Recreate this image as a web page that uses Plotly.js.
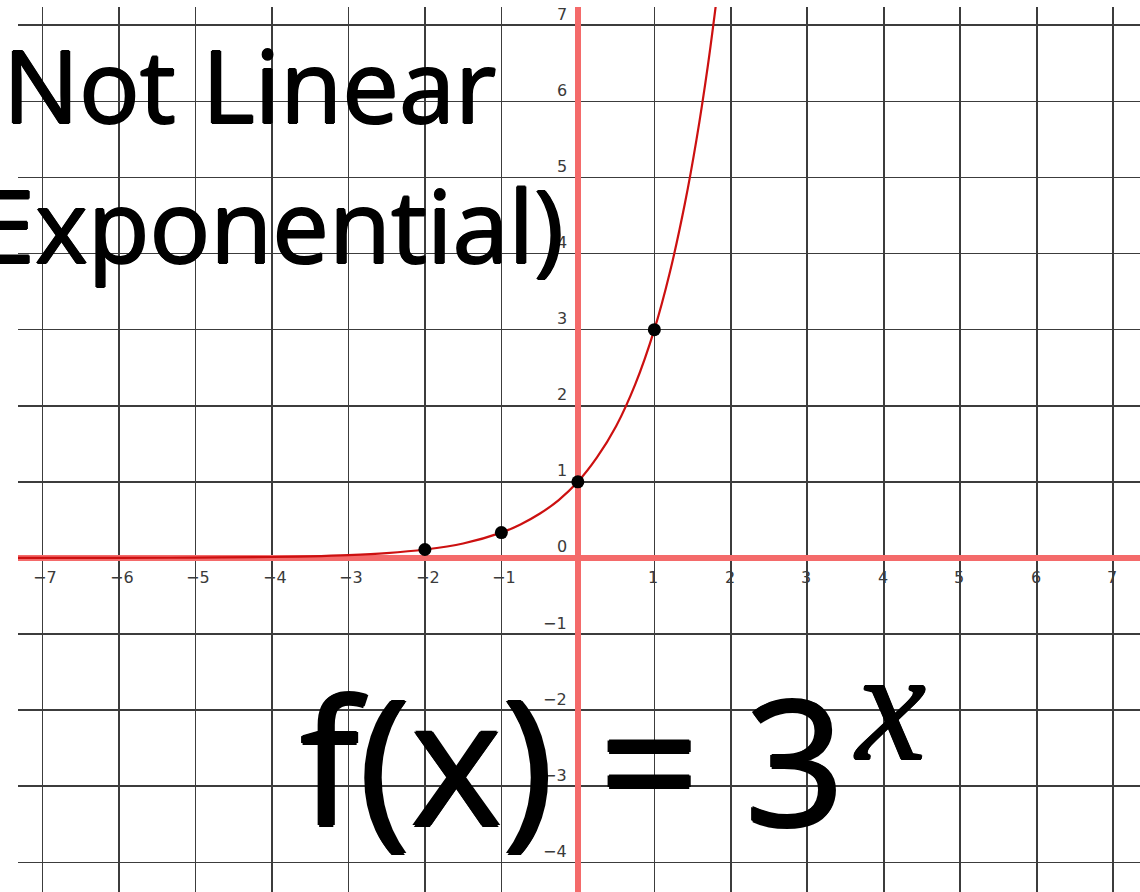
<!DOCTYPE html>
<html>
<head>
<meta charset="utf-8">
<script src="https://cdn.plot.ly/plotly-3.0.1.min.js"></script>
<style>
  html, body { margin: 0; padding: 0; background: #ffffff; }
  #chart { width: 1140px; height: 892px; }
</style>
</head>
<body>
<div id="chart"></div>
<script>
// ---- data ----
var curveX = [-7.35, -6, -5, -4, -3.5, -3, -2.5, -2, -1.5, -1, -0.75, -0.5, -0.25, 0, 0.25, 0.5, 0.75, 1, 1.2, 1.4, 1.55, 1.7, 1.82];
var curveY = [0.0003, 0.0014, 0.004, 0.012, 0.021, 0.037, 0.064, 0.111, 0.19, 0.333, 0.44, 0.58, 0.76, 1, 1.32, 1.73, 2.28, 3, 3.74, 4.66, 5.49, 6.47, 7.39];
var pointsX = [-2, -1, 0, 1];
var pointsY = [0.111, 0.333, 1, 3];
var xTickLabels = [-7, -6, -5, -4, -3, -2, -1, 1, 2, 3, 4, 5, 6, 7];
var yTickLabels = [7, 6, 5, 4, 3, 2, 1, 0, -1, -2, -3, -4];
var titleLine1 = "Not Linear";
var titleLine2 = "(Exponential)";
var formulaText = "f(x) = 3";
var exponentText = "x";

// ---- layout helpers (pixel -> paper) ----
var W = 1140, H = 892, ML = 18, MR = 0, MT = 7, MB = 0;
function px(x) { return (x - ML) / (W - ML - MR); }
function py(y) { return (H - MB - y) / (H - MT - MB); }
function fmt(v) { return v < 0 ? "\u2212" + Math.abs(v) : String(v); }
function outline(w) {
  return w + "px 0 0 #000, -" + w + "px 0 0 #000, 0 " + w + "px 0 #000, 0 -" + w + "px 0 #000";
}

var tickFont = { family: "DejaVu Sans", size: 16, color: "#3a3a3a" };
var bigFont = "Open Sans";

var annotations = [];
xTickLabels.forEach(function (v) {
  annotations.push({
    x: v, y: 0, xref: "x", yref: "y", text: fmt(v), showarrow: false,
    xanchor: "center", yanchor: "middle", xshift: v < 0 ? 3 : -1, yshift: -20,
    font: tickFont
  });
});
yTickLabels.forEach(function (v) {
  annotations.push({
    x: 0, y: v, xref: "x", yref: "y", text: fmt(v), showarrow: false,
    xanchor: "right", yanchor: "middle", xshift: -9, yshift: 11,
    font: tickFont
  });
});
annotations.push({
  x: px(1), y: py(84), xref: "paper", yref: "paper", text: titleLine1, showarrow: false,
  xanchor: "left", yanchor: "middle",
  font: { family: bigFont, size: 101, color: "#000000", shadow: outline(1) }
});
annotations.push({
  x: px(566), y: py(224), xref: "paper", yref: "paper", text: titleLine2, showarrow: false,
  xanchor: "right", yanchor: "middle",
  font: { family: bigFont, size: 101, color: "#000000", shadow: outline(1) }
});
annotations.push({
  x: px(298), y: py(757), xref: "paper", yref: "paper", text: formulaText, showarrow: false,
  xanchor: "left", yanchor: "middle",
  font: { family: bigFont, size: 175, color: "#000000", shadow: outline(1.5) }
});
annotations.push({
  x: px(852), y: py(705), xref: "paper", yref: "paper", text: exponentText, showarrow: false,
  xanchor: "left", yanchor: "middle",
  font: { family: "Liberation Serif", size: 158, style: "italic", color: "#000000", shadow: outline(0.8) }
});

var traces = [
  {
    x: curveX, y: curveY, type: "scatter", mode: "lines",
    line: { color: "#cc1010", width: 2.2, shape: "spline" },
    hoverinfo: "skip", cliponaxis: true
  },
  {
    x: pointsX, y: pointsY, type: "scatter", mode: "markers",
    marker: { color: "#000000", size: 13 },
    hoverinfo: "skip"
  }
];

var axisCommon = {
  dtick: 1, tick0: 0, showgrid: true, gridcolor: "#3c3c3c", gridwidth: 1.6,
  zeroline: true, zerolinecolor: "#f46a6a", zerolinewidth: 6,
  showticklabels: false, ticks: "", showline: false, fixedrange: true
};

var layout = {
  width: W, height: H,
  margin: { l: ML, r: MR, t: MT, b: MB, pad: 0 },
  paper_bgcolor: "#ffffff", plot_bgcolor: "#ffffff",
  showlegend: false,
  xaxis: Object.assign({}, axisCommon, { range: [-7.32, 7.35] }),
  yaxis: Object.assign({}, axisCommon, { range: [-4.39, 7.24] }),
  annotations: annotations
};

Plotly.newPlot("chart", traces, layout, { displayModeBar: false, staticPlot: true });
</script>
</body>
</html>
